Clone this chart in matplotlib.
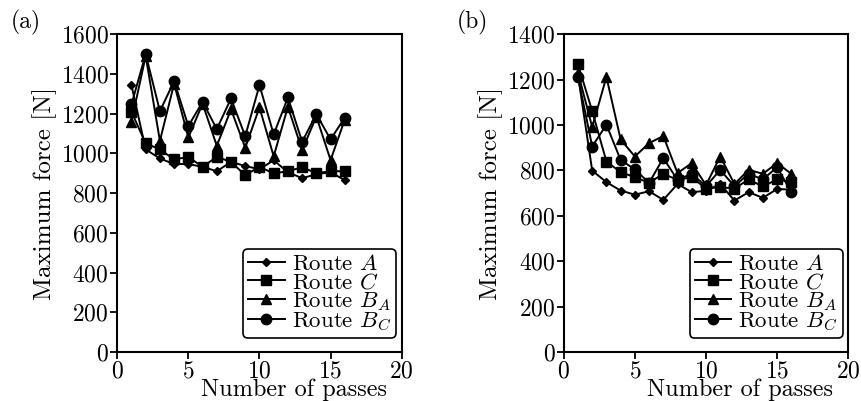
import matplotlib
matplotlib.use("Agg")
import matplotlib.pyplot as plt

plt.rcParams["font.family"] = "cmr10"
plt.rcParams["mathtext.fontset"] = "cm"
plt.rcParams["axes.formatter.use_mathtext"] = True

passes = list(range(1, 17))

# panel (a)
a_route_a = [1343, 1020, 974, 946, 946, 932, 910, 957, 936, 920, 965, 905, 875, 895, 905, 865]
a_route_c = [1209, 1050, 1020, 969, 982, 932, 982, 957, 890, 932, 899, 910, 930, 900, 910, 910]
a_route_ba = [1159, 1490, 1063, 1350, 1080, 1250, 1038, 1221, 1028, 1231, 985, 1234, 1016, 1185, 966, 1170]
a_route_bc = [1246, 1499, 1212, 1363, 1137, 1259, 1122, 1276, 1086, 1343, 1095, 1281, 1058, 1197, 1070, 1180]

# panel (b)
b_route_a = [1220, 799, 748, 711, 693, 708, 670, 740, 704, 710, 740, 667, 704, 679, 718, 715]
b_route_c = [1267, 1061, 839, 792, 770, 745, 785, 758, 770, 720, 726, 720, 760, 729, 760, 748]
b_route_ba = [1230, 991, 1211, 936, 861, 920, 951, 788, 832, 735, 861, 740, 802, 785, 832, 785]
b_route_bc = [1211, 905, 1001, 846, 804, 745, 854, 758, 785, 730, 802, 730, 785, 760, 814, 704]

labels = ["Route $A$", "Route $C$", "Route $B_A$", "Route $B_C$"]
markers = [("D", 4.5), ("s", 6.5), ("^", 7), ("o", 7.5)]


def draw_panel(ax, series, ymax, tag):
    for values, (m, ms), lab in zip(series, markers, labels):
        ax.plot(passes, values, color="black", lw=1.4, marker=m,
                markersize=ms, label=lab)
    ax.set_xlim(0, 20)
    ax.set_ylim(0, ymax)
    ax.set_xticks([0, 5, 10, 15, 20])
    ax.set_yticks(range(0, ymax + 1, 200))
    ax.tick_params(direction="out", length=5, width=1.3, labelsize=17,
                   top=False, right=False, pad=1)
    for s in ax.spines.values():
        s.set_linewidth(1.5)
    ax.set_xlabel("Number of passes", fontsize=17.5, va="bottom")
    ax.xaxis.set_label_coords(0.62, -0.155)
    ax.set_ylabel("Maximum force [N]", fontsize=18, labelpad=3)
    leg = ax.legend(loc="lower right", bbox_to_anchor=(0.98, 0.045),
                    fontsize=16.5, fancybox=True, framealpha=1,
                    edgecolor="black", handlelength=1.6, borderpad=0.22,
                    labelspacing=-0.1, handletextpad=0.3, borderaxespad=0)
    leg.get_frame().set_linewidth(1.2)
    ax.figure.text(ax.get_position().x0 - 0.124, 0.93, tag, fontsize=17)


fig = plt.figure(figsize=(8.62, 4.01), dpi=100)
ax1 = fig.add_axes([0.136, 0.122, 0.330, 0.793])
ax2 = fig.add_axes([0.654, 0.122, 0.330, 0.793])

draw_panel(ax1, [a_route_a, a_route_c, a_route_ba, a_route_bc], 1600, "(a)")
draw_panel(ax2, [b_route_a, b_route_c, b_route_ba, b_route_bc], 1400, "(b)")

fig.savefig("out.png", dpi=100)
